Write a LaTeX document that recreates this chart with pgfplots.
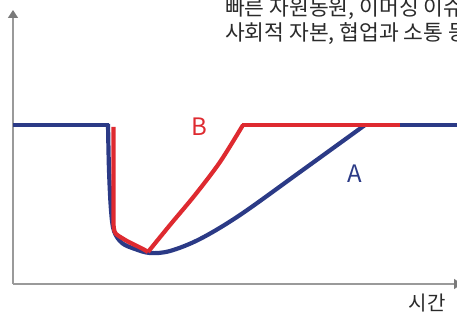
\documentclass[border=0pt]{standalone}
\usepackage{fontspec}
\setmainfont{Noto Sans CJK KR}
\usepackage{pgfplots}
\pgfplotsset{compat=1.18}
\usetikzlibrary{arrows.meta}
\definecolor{curveA}{HTML}{2B3A86}
\definecolor{curveB}{HTML}{DE2A30}
\definecolor{axisgray}{HTML}{9A9A9A}
\definecolor{arrowgray}{HTML}{7A7A7A}
\definecolor{textgray}{HTML}{2A2A2A}
\begin{document}
\begin{tikzpicture}
\begin{axis}[
  scale only axis, width=457pt, height=320pt,
  xmin=0, xmax=457, ymin=0, ymax=320,
  hide axis, clip=true,
]
% axes with arrow heads
\addplot[axisgray, line width=1.3pt, -{Triangle[length=8pt,width=10pt,fill=arrowgray,color=arrowgray]}]
  coordinates {(13,36) (13,310)};
\addplot[axisgray, line width=1.3pt, -{Triangle[length=8pt,width=10pt,fill=arrowgray,color=arrowgray]}]
  coordinates {(13,36) (462,36)};

% curve A
\addplot[curveA, line width=4.2pt, line cap=butt] coordinates {(13,195) (108.5,195)};
\addplot[curveA, line width=4.2pt, smooth, tension=0.55] coordinates {
  (108,196) (109,150) (111,110) (114,89) (122,77) (135,71) (150,67)
  (170,69) (200,81) (240,105) (300,148) (365,195)};
\addplot[curveA, line width=4.2pt, line cap=butt] coordinates {(364,195) (457,195)};

% curve B
\addplot[curveB, line width=4.2pt, smooth, tension=0.4] coordinates {
  (113.5,193) (113.5,150) (113.5,100) (114,91) (116,86) (127,79) (143,71) (148,68)};
\addplot[curveB, line width=4.2pt, smooth, tension=0.5, line join=round] coordinates {
  (148,68) (170,95) (195,125) (220,158) (243,195)};
\addplot[curveB, line width=4.2pt, line cap=butt] coordinates {(242,195) (400,195)};

% labels
\node[curveB, font=\fontsize{24}{24}\selectfont] at (axis cs:199,193) {B};
\node[curveA, font=\fontsize{24}{24}\selectfont] at (axis cs:355,146) {A};
\node[textgray, font=\fontsize{20}{20}\selectfont] at (axis cs:427,17) {시간};
\node[textgray, anchor=west, inner sep=0pt, font=\fontsize{21.5}{21.5}\selectfont]
  at (axis cs:225,311) {빠른 자원동원, 이머싱 이슈};
\node[textgray, anchor=west, inner sep=0pt, font=\fontsize{21.5}{21.5}\selectfont]
  at (axis cs:225,286) {사회적 자본, 협업과 소통 등};
\end{axis}
\pgfresetboundingbox
\useasboundingbox (0,0) rectangle (457pt,320pt);
\end{tikzpicture}
\end{document}
